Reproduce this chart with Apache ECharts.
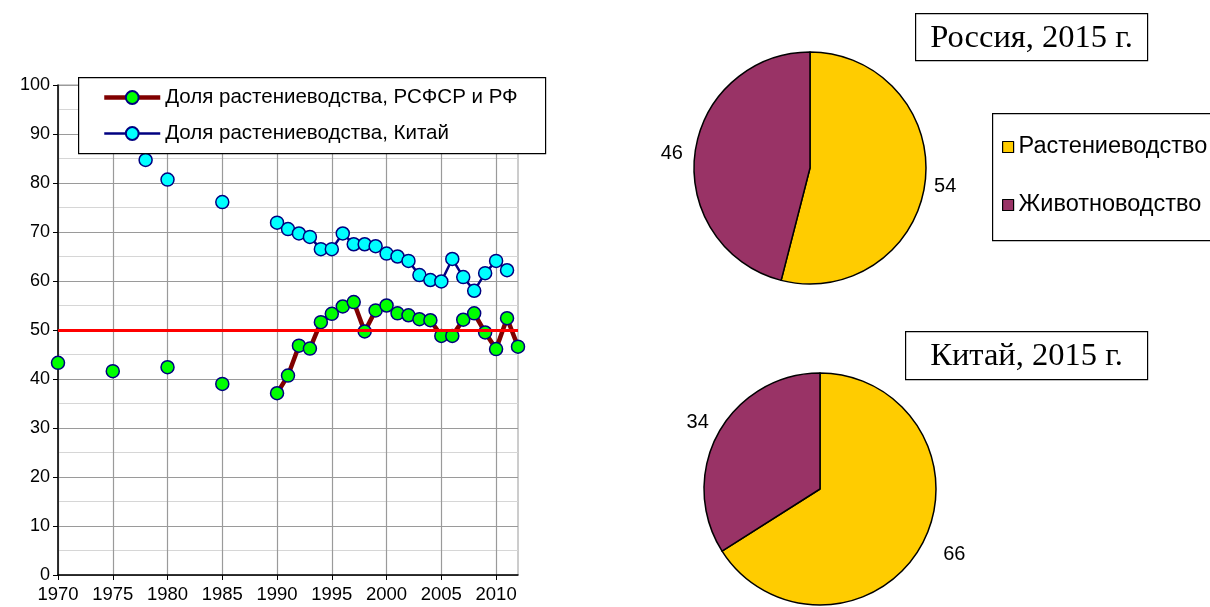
<!DOCTYPE html>
<html>
<head>
<meta charset="utf-8">
<script src="https://cdn.jsdelivr.net/npm/echarts@6/dist/echarts.min.js"></script>
<style>
  html, body { margin: 0; padding: 0; background: #ffffff; }
  #chart { width: 1210px; height: 607px; }
</style>
</head>
<body>
<div id="chart"></div>
<script>
// Category axis: every year of the period
const years = [1970, 1971, 1972, 1973, 1974, 1975, 1976, 1977, 1978, 1979,
               1980, 1981, 1982, 1983, 1984, 1985, 1986, 1987, 1988, 1989,
               1990, 1991, 1992, 1993, 1994, 1995, 1996, 1997, 1998, 1999,
               2000, 2001, 2002, 2003, 2004, 2005, 2006, 2007, 2008, 2009,
               2010, 2011, 2012];

// Share of crop production in agriculture, RSFSR / Russian Federation (%)
const ruYears = [1970, 1975, 1980, 1985, 1990, 1991, 1992, 1993, 1994, 1995,
                 1996, 1997, 1998, 1999, 2000, 2001, 2002, 2003, 2004, 2005,
                 2006, 2007, 2008, 2009, 2010, 2011, 2012];
const ruShare = [43.3, 41.6, 42.4, 39.0, 37.1, 40.7, 46.8, 46.2, 51.6, 53.3,
                 54.8, 55.7, 49.7, 54.0, 55.0, 53.4, 53.0, 52.2, 52.0, 48.8,
                 48.8, 52.1, 53.4, 49.5, 46.1, 52.4, 46.6];

// Share of crop production in agriculture, China (%)
const cnYears = [1978, 1980, 1985, 1990, 1991, 1992, 1993, 1994, 1995, 1996,
                 1997, 1998, 1999, 2000, 2001, 2002, 2003, 2004, 2005, 2006,
                 2007, 2008, 2009, 2010, 2011];
const cnShare = [84.7, 80.7, 76.1, 71.9, 70.6, 69.7, 69.0, 66.5, 66.5, 69.7,
                 67.5, 67.5, 67.1, 65.6, 65.0, 64.1, 61.2, 60.2, 59.9, 64.5,
                 60.8, 58.0, 61.6, 64.1, 62.2];

// Reference level
const halfLine = 50;

// 2015 structure of agricultural output
const sectorNames = ['Растениеводство', 'Животноводство'];
const russia2015 = [54, 46];
const china2015 = [66, 34];

const seriesNames = ['Доля растениеводства, РСФСР и РФ', 'Доля растениеводства, Китай'];

const SANS = '"Liberation Sans", Arial, sans-serif';
const SERIF = '"Liberation Serif", "Times New Roman", serif';
const YELLOW = '#ffcc00';
const PLUM = '#993366';
const RU_LINE = '#800000';
const CN_LINE = '#000080';

// Spread sparse observations over the yearly axis; missing years stay empty
function onYearAxis(ys, vals) {
  const byYear = {};
  ys.forEach((y, i) => { byYear[y] = vals[i]; });
  return years.map(y => (y in byYear ? byYear[y] : null));
}

// Pie with outside value labels; labelShift nudges each label (px)
function pieSeries(center, values, labelShift) {
  return {
    type: 'pie',
    center: center,
    radius: 116,
    startAngle: 90,
    clockwise: true,
    avoidLabelOverlap: false,
    silent: true,
    data: sectorNames.map((n, i) => ({ name: n, value: values[i] })),
    itemStyle: { borderColor: '#000', borderWidth: 1.5 },
    label: {
      show: true,
      position: 'outside',
      formatter: '{c}',
      fontFamily: SANS,
      fontSize: 20,
      color: '#000',
      distanceToLabelLine: 5
    },
    labelLine: { show: false, length: 4, length2: 0 },
    labelLayout: function (p) {
      const s = labelShift[p.dataIndex];
      return { dx: s[0], dy: s[1] };
    }
  };
}

function titleBox(x, y, w, h, text) {
  return {
    type: 'group',
    left: x, top: y, z: 10,
    children: [
      { type: 'rect', shape: { x: 0, y: 0, width: w, height: h },
        style: { fill: '#fff', stroke: '#000', lineWidth: 1.2 } },
      { type: 'text', x: w / 2, y: h / 2 + 1,
        style: { text: text, fill: '#000', font: '32.5px ' + SERIF,
                 align: 'center', verticalAlign: 'middle' } }
    ]
  };
}

const chart = echarts.init(document.getElementById('chart'));

chart.setOption({
  backgroundColor: '#fff',
  animation: false,
  color: [YELLOW, PLUM],
  grid: {
    left: 58, right: 692, top: 85, bottom: 32,
    show: true, borderColor: '#9a9a9a', borderWidth: 1
  },
  xAxis: {
    type: 'category',
    data: years,
    boundaryGap: false,
    axisLine: { lineStyle: { color: '#000', width: 1.5 } },
    axisTick: { interval: 4, length: 5, lineStyle: { color: '#000' } },
    axisLabel: { interval: 4, color: '#000', fontFamily: SANS, fontSize: 18.5, margin: 10 },
    splitLine: { show: true, interval: 4, lineStyle: { color: '#9a9a9a', width: 1.2 } }
  },
  yAxis: {
    type: 'value',
    min: 0, max: 100, interval: 10,
    axisLine: { show: true, lineStyle: { color: '#000', width: 1.5 } },
    axisTick: { show: true, length: 5, lineStyle: { color: '#000' } },
    axisLabel: { color: '#000', fontFamily: SANS, fontSize: 18, margin: 8 },
    splitLine: { show: true, lineStyle: { color: '#9a9a9a', width: 1.2 } },
    minorTick: { show: false, splitNumber: 2 },
    minorSplitLine: { show: true, lineStyle: { color: '#d6d6d6', width: 1.2 } }
  },
  legend: [
    {
      data: [
        { name: seriesNames[0], lineStyle: { color: RU_LINE, width: 4.5 } },
        { name: seriesNames[1], lineStyle: { color: CN_LINE, width: 2.5 } }
      ],
      orient: 'vertical',
      left: 78, top: 77,
      padding: [10, 0, 0, 24],
      itemWidth: 56, itemHeight: 16,
      itemGap: 15,
      selectedMode: false,
      textStyle: { color: '#000', fontFamily: SANS, fontSize: 20.5, lineHeight: 20 },
      z: 12
    },
    {
      data: sectorNames,
      orient: 'vertical',
      left: 1002, top: 135,
      padding: 0,
      icon: 'rect',
      itemWidth: 11, itemHeight: 11,
      itemGap: 34,
      selectedMode: false,
      itemStyle: { borderColor: '#000', borderWidth: 1.2 },
      textStyle: { color: '#000', fontFamily: SANS, fontSize: 23.5, lineHeight: 24 },
      z: 12
    }
  ],
  graphic: {
    elements: [
      // line-chart legend frame
      { type: 'rect', left: 78, top: 77, z: 11,
        shape: { width: 467, height: 76 },
        style: { fill: '#fff', stroke: '#000', lineWidth: 1.2 } },
      // pie legend frame
      { type: 'rect', left: 992, top: 113, z: 11,
        shape: { width: 240, height: 127 },
        style: { fill: '#fff', stroke: '#000', lineWidth: 1.2 } },
      titleBox(915, 13, 232, 47, 'Россия, 2015 г.'),
      titleBox(905, 331, 242, 48, 'Китай, 2015 г.')
    ]
  },
  series: [
    {
      name: seriesNames[0],
      type: 'line',
      data: onYearAxis(ruYears, ruShare),
      connectNulls: false,
      showAllSymbol: true,
      symbol: 'circle',
      symbolSize: 13,
      lineStyle: { color: RU_LINE, width: 4.5 },
      itemStyle: { color: '#00ff00', borderColor: '#000080', borderWidth: 1.5 },
      z: 3,
      markLine: {
        silent: true,
        symbol: 'none',
        label: { show: false },
        lineStyle: { color: '#ff0000', width: 3, type: 'solid' },
        data: [{ yAxis: halfLine }]
      }
    },
    {
      name: seriesNames[1],
      type: 'line',
      data: onYearAxis(cnYears, cnShare),
      connectNulls: false,
      showAllSymbol: true,
      symbol: 'circle',
      symbolSize: 13,
      lineStyle: { color: CN_LINE, width: 2.5 },
      itemStyle: { color: '#00ffff', borderColor: '#000080', borderWidth: 1.5 },
      z: 3
    },
    pieSeries([810, 168], russia2015, [[0, 3], [-3, 1]]),
    pieSeries([820, 489], china2015, [[13, 8], [-1, -9]])
  ]
});
</script>
</body>
</html>
